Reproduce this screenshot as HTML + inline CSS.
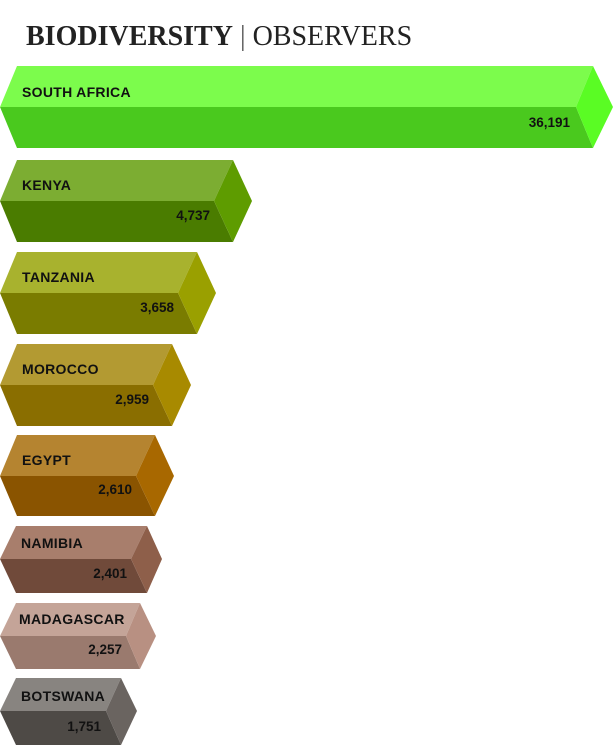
<!DOCTYPE html>
<html><head><style>body{margin:0;background:#fff}svg{display:block}</style></head><body>
<svg width="614" height="746" xmlns="http://www.w3.org/2000/svg" font-family="Liberation Sans, Arial, sans-serif">
<text x="26" y="45" font-family="Liberation Serif, serif" font-size="28" fill="#222"><tspan font-weight="bold">BIODIVERSITY</tspan><tspan fill="#555"> | </tspan><tspan>OBSERVERS</tspan></text>
<g font-weight="bold" fill="#111">
<!-- SA -->
<polygon points="17,66 593,66 576,107 0,107" fill="#7cfc4c"/>
<polygon points="0,107 576,107 593,148 17,148" fill="#4ac91e"/>
<polygon points="593,66 613,107 593,148 576,107" fill="#5afc24"/>
<!-- Kenya -->
<polygon points="17,160 233,160 214,201 0,201" fill="#7cad32"/>
<polygon points="0,201 214,201 233,242 17,242" fill="#4a7c00"/>
<polygon points="233,160 252,201 233,242 214,201" fill="#5e9c00"/>
<!-- Tanzania -->
<polygon points="17,252 197,252 178,293 0,293" fill="#a8b22e"/>
<polygon points="0,293 178,293 197,334 17,334" fill="#7a7c00"/>
<polygon points="197,252 216,293 197,334 178,293" fill="#9aa000"/>
<!-- Morocco -->
<polygon points="17,344 172,344 153,385 0,385" fill="#b39a32"/>
<polygon points="0,385 153,385 172,426 17,426" fill="#8a6e00"/>
<polygon points="172,344 191,385 172,426 153,385" fill="#a88a00"/>
<!-- Egypt -->
<polygon points="17,435 155,435 136,476 0,476" fill="#b58430"/>
<polygon points="0,476 136,476 155,516 17,516" fill="#8a5400"/>
<polygon points="155,435 174,476 155,516 136,476" fill="#a86800"/>
<!-- Namibia -->
<polygon points="16,526 147,526 131,559 0,559" fill="#a87e6c"/>
<polygon points="0,559 131,559 147,593 16,593" fill="#704a3a"/>
<polygon points="147,526 162,559 147,593 131,559" fill="#8e5f4a"/>
<!-- Madagascar -->
<polygon points="16,603 140,603 126,636 0,636" fill="#c4a498"/>
<polygon points="0,636 126,636 140,669 16,669" fill="#9a7a6e"/>
<polygon points="140,603 156,636 140,669 126,636" fill="#b89082"/>
<!-- Botswana -->
<polygon points="16,678 121,678 106,711 0,711" fill="#888480"/>
<polygon points="0,711 106,711 121,745 16,745" fill="#4e4a46"/>
<polygon points="121,678 137,711 121,745 106,711" fill="#6a6460"/>
<g font-size="14" letter-spacing="0.3">
<text x="22" y="97">SOUTH AFRICA</text>
<text x="22" y="190">KENYA</text>
<text x="22" y="282">TANZANIA</text>
<text x="22" y="374">MOROCCO</text>
<text x="22" y="465">EGYPT</text>
<text x="21" y="548">NAMIBIA</text>
<text x="19" y="624">MADAGASCAR</text>
<text x="21" y="701">BOTSWANA</text>
</g>
<g font-size="13.5" text-anchor="end">
<text x="570" y="127">36,191</text>
<text x="210" y="220">4,737</text>
<text x="174" y="312">3,658</text>
<text x="149" y="404">2,959</text>
<text x="132" y="494">2,610</text>
<text x="127" y="578">2,401</text>
<text x="122" y="654">2,257</text>
<text x="101" y="731">1,751</text>
</g>
</g>
</svg>
</body></html>
